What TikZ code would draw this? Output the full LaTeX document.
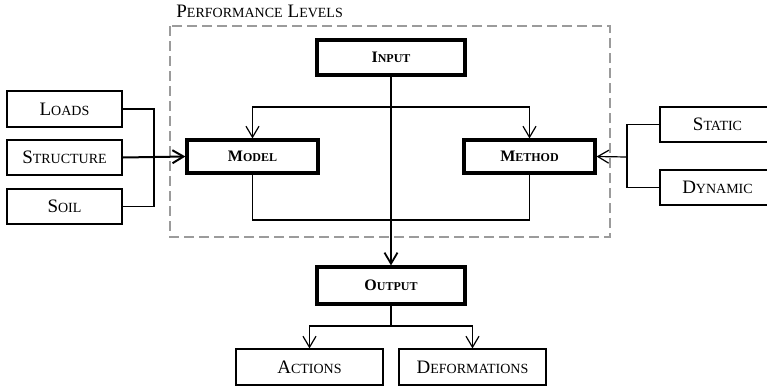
\documentclass[tikz,border=0pt]{standalone}
\usepackage{fontspec}
\setmainfont{Liberation Serif}
\usepackage{tikz}
\usetikzlibrary{arrows.meta, positioning, calc}

\definecolor{framegray}{RGB}{155,155,155}
% fake small caps: first letter large, rest small capitals
\newcommand{\scap}[2]{{\fontsize{9.5}{10}\selectfont #1}{\fontsize{7}{8}\selectfont #2}}
\newcommand{\bscap}[2]{\textbf{{\fontsize{8}{9}\selectfont #1}{\fontsize{6}{7}\selectfont #2}}}

\begin{document}
\begin{tikzpicture}[
    x=0.5pt, y=-0.5pt,
    box/.style={draw, line width=0.6pt, minimum width=57.5pt, minimum height=17.5pt, inner sep=0pt, align=center},
    mainbox/.style={draw, line width=1.6pt, minimum width=74pt, minimum height=17.5pt, inner sep=0pt, align=center},
    subbox/.style={mainbox, minimum width=65.5pt, minimum height=16.5pt},
    cutbox/.style={draw, line width=0.6pt, minimum width=66pt, minimum height=17.5pt, inner sep=0pt},
    link/.style={line width=0.6pt},
    >={Straight Barb[length=5.5pt, width=6.5pt]}
]
  \useasboundingbox (0,0) rectangle (767,387);

  % performance levels frame
  \draw[framegray, line width=1.1pt, dash pattern=on 5pt off 2.5pt] (170,26) rectangle (610,237);
  \node[anchor=base west, inner sep=0pt] (plabel) at (176,17) {\scap{P}{ERFORMANCE} \scap{L}{EVELS}};

  % main chain
  \node[mainbox] (input) at (391,57.5) {\bscap{I}{NPUT}};
  \node[subbox] (model) at (252.5,156.5) {\bscap{M}{ODEL}};
  \node[subbox] (method) at (529.5,156.5) {\bscap{M}{ETHOD}};
  \node[mainbox, minimum height=18.5pt] (output) at (391,285.5) {\bscap{O}{UTPUT}};

  % inputs on the left
  \node[box, minimum height=18pt] (loads) at (64.5,109) {\scap{L}{OADS}};
  \node[box] (structure) at (64.5,157.5) {\scap{S}{TRUCTURE}};
  \node[box] (soil) at (64.5,206.5) {\scap{S}{OIL}};

  % analysis types on the right (cut by the page edge)
  \node[cutbox] (static) at (726,124.5) {\hspace*{-8.5pt}\scap{S}{TATIC}};
  \node[cutbox] (dynamic) at (726,187.5) {\hspace*{-8.5pt}\scap{D}{YNAMIC}};

  % results
  \node[box, minimum width=73.5pt, minimum height=18pt] (actions) at (309.5,367) {\scap{A}{CTIONS}};
  \node[box, minimum width=73.5pt, minimum height=18pt] (deform) at (472.5,367) {\scap{D}{EFORMATIONS}};

  \coordinate (lbus) at (154,157.5);
  \coordinate (rbus) at (627,157);
  \coordinate (split) at (391,107);
  \coordinate (join) at (391,220);
  \coordinate (osplit) at (391,326);

  \draw[link] (loads.east) -| (lbus) |- (soil.east);
  \draw[->, line width=1pt] (structure.east) -- (model.west);
  \draw[link] (static.west) -| (rbus) |- (dynamic.west);
  \draw[->, link] (rbus) -- (method.east);

  \draw[->, link] (split) -| (model.north);
  \draw[->, link] (split) -| (method.north);
  \draw[link] (model.south) |- (join) -| (method.south);
  \draw[->, line width=0.9pt] (input.south) -- (output.north);

  \draw[link] (output.south) -- (osplit);
  \draw[->, link] (osplit) -| (actions.north);
  \draw[->, link] (osplit) -| (deform.north);
\end{tikzpicture}
\end{document}
